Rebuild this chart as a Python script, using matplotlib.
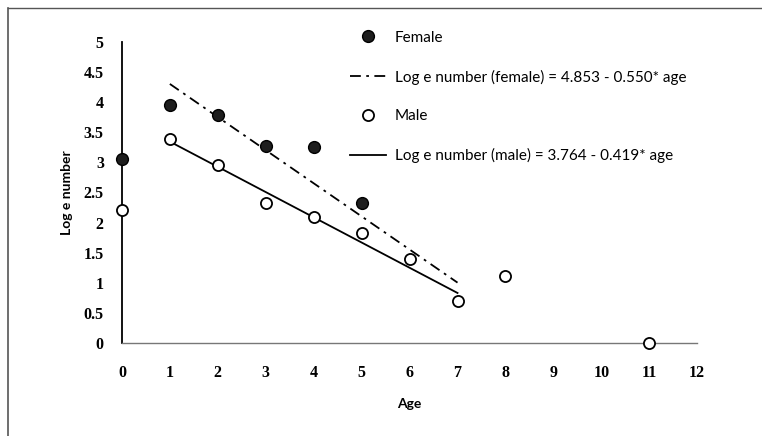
import numpy as np
import matplotlib.pyplot as plt
from matplotlib.lines import Line2D

# Log numbers by age
female_age = [0, 1, 2, 3, 4, 5]
female_log = [3.05, 3.95, 3.78, 3.28, 3.25, 2.32]
male_age = [0, 1, 2, 3, 4, 5, 6, 7, 8, 11]
male_log = [2.21, 3.39, 2.95, 2.33, 2.09, 1.82, 1.39, 0.70, 1.11, 0.0]

# Fitted lines: log e number = a - b * age, drawn over ages 1..7
fit_ages = [1, 7]
female_a, female_b = 4.853, 0.550
male_a, male_b = 3.764, 0.419

tick_font = dict(family='Liberation Serif', weight='bold', size=11.5)

fig = plt.figure(figsize=(7.62, 4.36), dpi=100)
ax = fig.add_axes([0.160, 0.2133, 0.755, 0.6904])

fa = np.array(fit_ages)
f_line, = ax.plot(fa, female_a - female_b * fa, color='black', lw=1.3,
                  linestyle=(0, (6, 3, 1.5, 3)), zorder=2)
m_line, = ax.plot(fa, male_a - male_b * fa, color='black', lw=1.3, zorder=2)

f_pts, = ax.plot(female_age, female_log, 'o', ms=8.5, mfc='#1e1e1e',
                 mec='black', mew=1.0, clip_on=False, zorder=3)
m_pts, = ax.plot(male_age, male_log, 'o', ms=8, mfc='white',
                 mec='black', mew=1.3, clip_on=False, zorder=4)

ax.set_xlim(0, 12)
ax.set_ylim(0, 5)
ax.set_xticks(range(0, 13))
ax.set_yticks(np.arange(0, 5.01, 0.5))
ax.set_yticklabels(['0', '0.5', '1', '1.5', '2', '2.5', '3', '3.5', '4', '4.5', '5'])
ax.tick_params(length=0)
ax.tick_params(axis='x', pad=16)
ax.tick_params(axis='y', pad=13)
for lab in ax.get_xticklabels() + ax.get_yticklabels():
    lab.set_fontproperties(tick_font)

for side in ['top', 'right']:
    ax.spines[side].set_visible(False)
ax.spines['left'].set_linewidth(1.3)
ax.spines['left'].set_color('black')
ax.spines['bottom'].set_linewidth(1.0)
ax.spines['bottom'].set_color('#777777')

ax.set_xlabel('Age', fontsize=10, fontweight='bold', family='Lato', labelpad=12)
ax.set_ylabel('Log e number', fontsize=10, fontweight='bold', family='Lato',
              labelpad=8)

handles = [f_pts, f_line, m_pts, m_line]
labels = ['Female',
          'Log e number (female) = 4.853 - 0.550* age',
          'Male',
          'Log e number (male) = 3.764 - 0.419* age']
leg = fig.legend(handles, labels, loc='upper left',
                 bbox_to_anchor=(336 / 762, 1 - 17 / 436),
                 frameon=False, handlelength=2.4, handletextpad=0.55,
                 labelspacing=1.62, prop=dict(family='Lato', size=11))

# thin frame along the top and left edges
fig.add_artist(Line2D([8 / 762, 1], [1 - 8 / 436, 1 - 8 / 436],
                      transform=fig.transFigure, color='#555555', lw=1.0))
fig.add_artist(Line2D([8 / 762, 8 / 762], [0, 1 - 8 / 436],
                      transform=fig.transFigure, color='#555555', lw=1.2))

fig.savefig('out.png', dpi=100)
